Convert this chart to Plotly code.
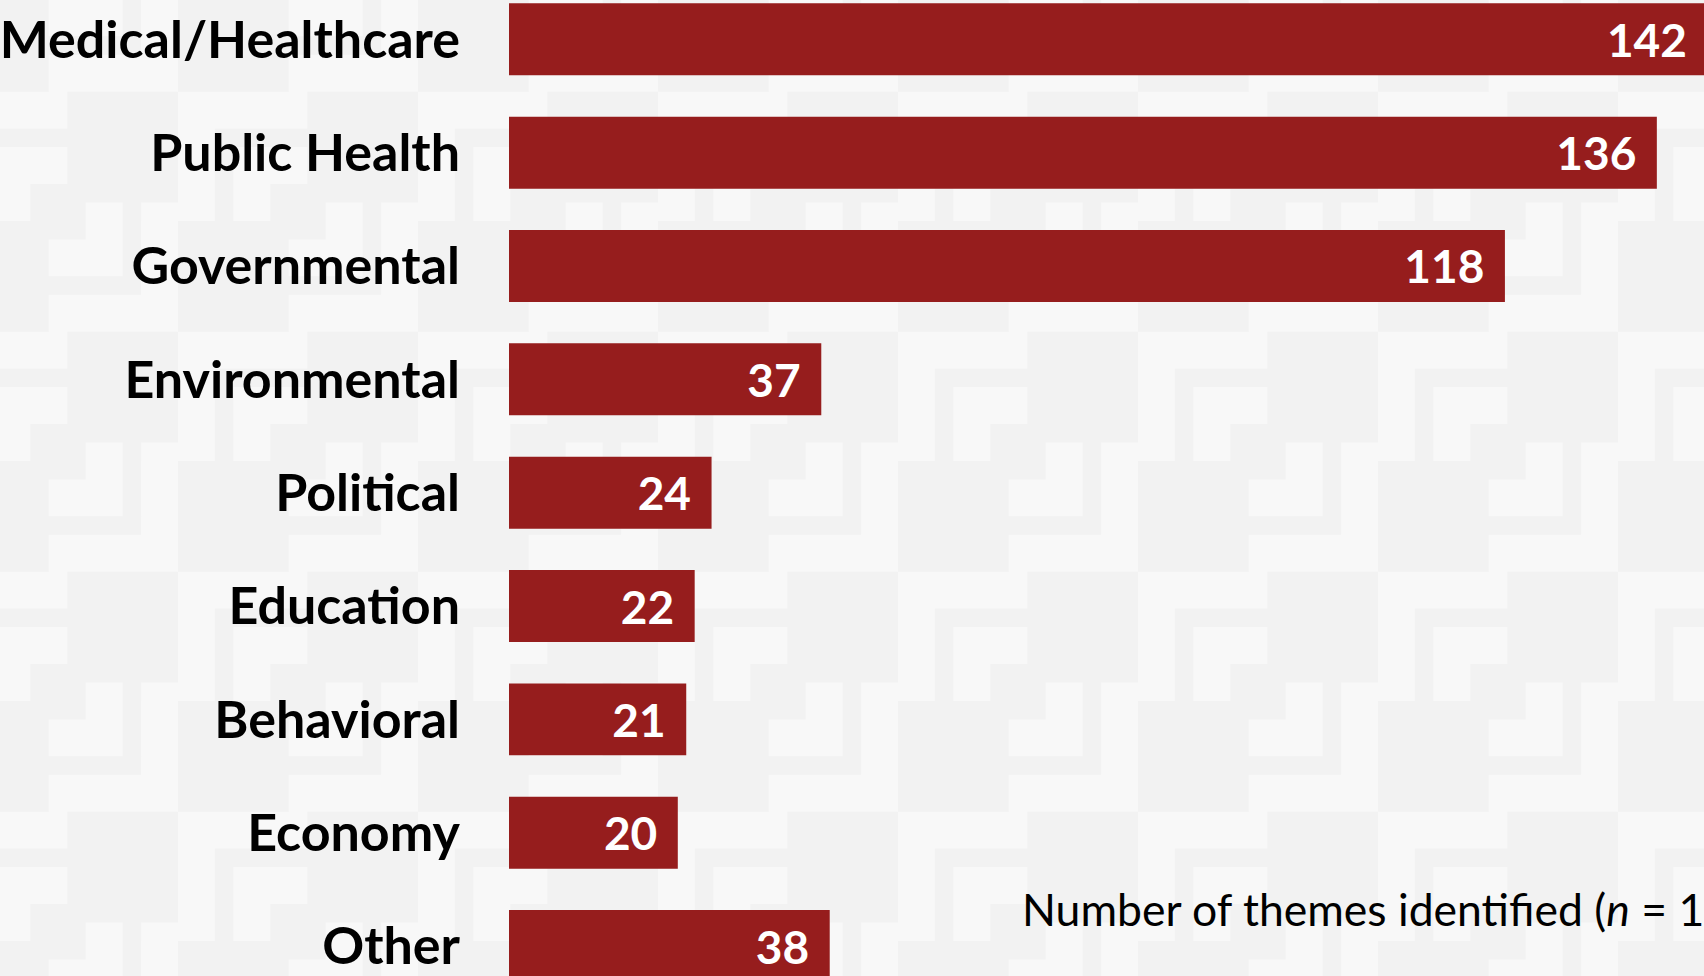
import plotly.graph_objects as go

# Themes and counts
categories = ["Medical/Healthcare", "Public Health", "Governmental", "Environmental",
              "Political", "Education", "Behavioral", "Economy", "Other"]
counts = [142, 136, 118, 37, 24, 22, 21, 20, 38]
# ZWNJ keeps "f" and "i" as separate glyphs
axis_title = "Number of themes identi\u200cfied (<i>n</i> = 1"

BAR_COLOR = "#961d1d"
BG_DARK = "#f2f2f2"
BG_LIGHT = "#f8f8f8"
FONT = "Lato"

FIG_W, FIG_H = 1704, 976
LEFT = 509  # plot area starts where the bars begin
PX_PER_UNIT = 8.44

fig = go.Figure(go.Bar(
    y=categories,
    x=counts,
    orientation="h",
    marker=dict(color=BAR_COLOR, line=dict(width=0)),
    # value labels inside the bar ends; trailing no-break spaces pad them off the edge
    texttemplate="<b>%{x}</b>\u00a0\u2009",
    textposition="inside",
    insidetextanchor="end",
    textangle=0,
    constraintext="none",
    insidetextfont=dict(family=FONT, size=46, color="white"),
    hoverinfo="skip",
))

fig.add_annotation(
    x=(1020 - LEFT) / (FIG_W - LEFT), y=1 - 908 / FIG_H,
    xref="paper", yref="paper", text=axis_title, showarrow=False,
    xanchor="left", yanchor="middle",
    font=dict(family=FONT, size=44.5, color="black"),
)

# Tiled background texture (light blocks on a darker ground), 240 px tile
u = 240 / 13
blocks = [(0, 0, 7, 2), (0, 2, 2, 7), (11, 6, 13, 13), (6, 11, 11, 13),
          (3, 3, 7, 5), (3, 5, 5, 7), (8, 6, 10, 8), (6, 8, 10, 10)]
W = FIG_W - LEFT


def px(x):
    return (x - LEFT) / W


def py(y):
    return 1 - y / FIG_H


parts = []
oy = -148.3
while oy < FIG_H:
    ox = -62.0
    while ox < FIG_W:
        for x0, y0, x1, y1 in blocks:
            ax0, ay0 = ox + x0 * u, oy + y0 * u
            ax1, ay1 = ox + x1 * u, oy + y1 * u
            parts.append(
                f"M{px(ax0):.5f},{py(ay0):.5f}L{px(ax1):.5f},{py(ay0):.5f}"
                f"L{px(ax1):.5f},{py(ay1):.5f}L{px(ax0):.5f},{py(ay1):.5f}Z"
            )
        ox += 240
    oy += 240

fig.add_shape(type="path", path="".join(parts), xref="paper", yref="paper",
              fillcolor=BG_LIGHT, line=dict(width=0), layer="below")

fig.update_layout(
    width=FIG_W, height=FIG_H,
    margin=dict(l=LEFT, r=0, t=0, b=0),
    paper_bgcolor=BG_DARK,
    plot_bgcolor="rgba(0,0,0,0)",
    bargap=0.365,
    showlegend=False,
    # the longest bar runs past the right edge
    xaxis=dict(range=[0, W / PX_PER_UNIT], visible=False, fixedrange=True),
    yaxis=dict(
        categoryorder="array", categoryarray=categories,
        range=[8.264, -0.3467],
        showgrid=False, zeroline=False, showline=False, ticks="",
        ticklabelstandoff=48,
        tickfont=dict(family=FONT, size=52, color="black", weight="bold"),
        fixedrange=True,
    ),
)

fig.write_html("out.html", config={"displayModeBar": False})
